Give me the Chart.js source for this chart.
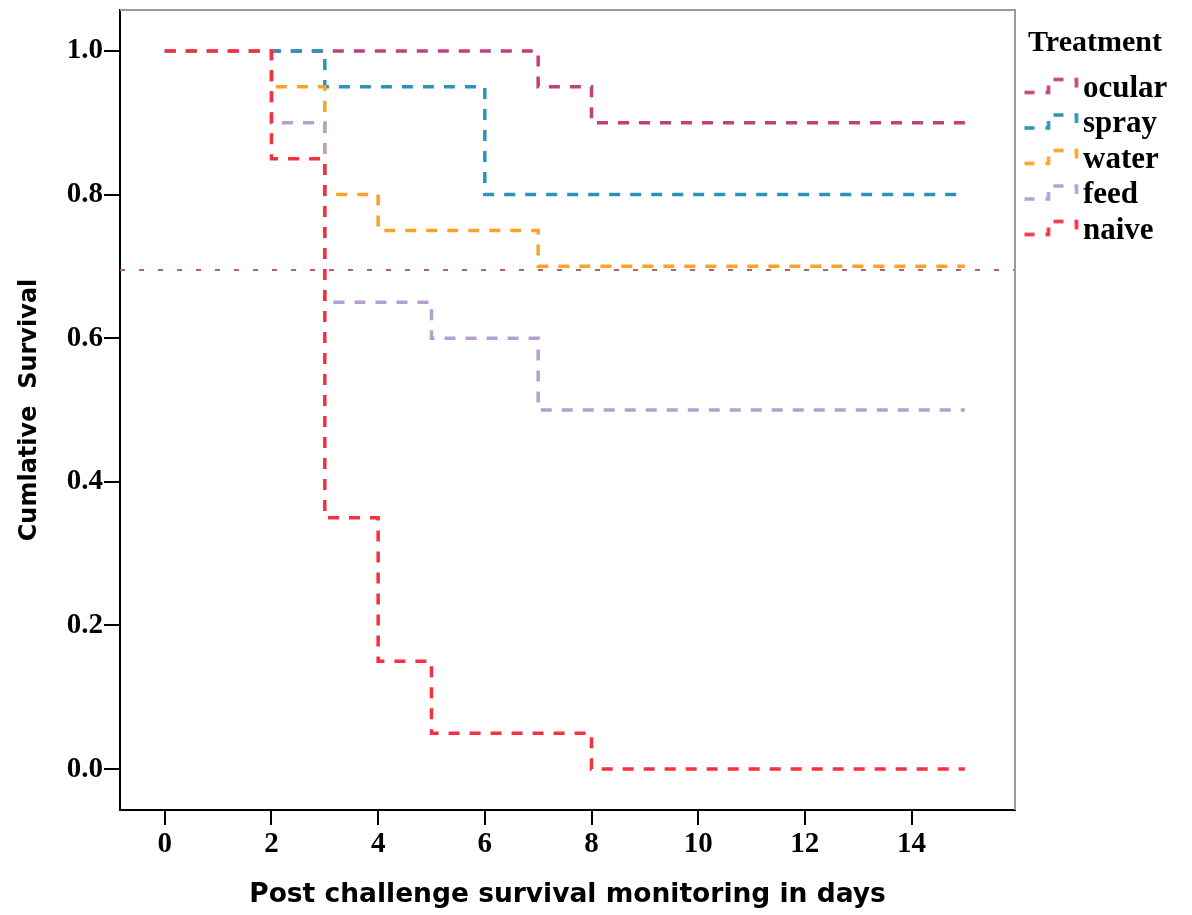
<!DOCTYPE html>
<html>
<head>
<meta charset="utf-8">
<script src="https://cdn.jsdelivr.net/npm/chart.js@4"></script>
<style>
body{margin:0;background:#fff;}
</style>
</head>
<body>
<canvas id="kmChart" width="1192" height="915"></canvas>
<script>

// survival steps: days where curve changes, and the value after the change
let groups = ['ocular','spray','water','feed','naive'];
let ocularDays = [0,7,8,15];
let ocularSurv = [1.0,0.95,0.9,0.9];
let sprayDays = [0,3,6,15];
let spraySurv = [1.0,0.95,0.8,0.8];
let waterDays = [0,2,3,4,7,15];
let waterSurv = [1.0,0.95,0.8,0.75,0.7,0.7];
let feedDays = [0,2,3,5,7,15];
let feedSurv = [1.0,0.9,0.65,0.6,0.5,0.5];
let naiveDays = [0,2,3,4,5,8,15];
let naiveSurv = [1.0,0.85,0.35,0.15,0.05,0.0,0.0];
let refLineDays = [-0.84,15.94];
let refLineSurv = [0.695,0.695];

let xTicks = [0,2,4,6,8,10,12,14];
let yTicks = [0,0.2,0.4,0.6,0.8,1.0];

let colors = {
ocular:'#c0407e',
spray:'#2b93b9',
water:'#fba229',
feed:'#b79fd2',
naive:'#f3313f'
};

let serif = 'Liberation Serif';
let sans = 'DejaVu Sans';

function toPoints(days, surv){
return days.map(function(d,i){ return {x:d, y:surv[i]}; });
}

// small step shaped legend icon, drawn on the right part of the image
function stepIcon(color){
let c = document.createElement('canvas');
c.width = 74;
c.height = 28;
let g = c.getContext('2d');
g.strokeStyle = color;
g.lineWidth = 3.5;
g.setLineDash([10,11]);
g.beginPath();
g.moveTo(18,18);
g.lineTo(42,18);
g.lineTo(42,5);
g.lineTo(70,5);
g.lineTo(70,16);
g.stroke();
return c;
}

let series = {
ocular:[ocularDays,ocularSurv,5],
spray:[sprayDays,spraySurv,4],
water:[waterDays,waterSurv,3],
feed:[feedDays,feedSurv,2],
naive:[naiveDays,naiveSurv,1]
};

let datasets = groups.map(function(name){
return {
label:name,
data:toPoints(series[name][0],series[name][1]),
borderColor:colors[name],
borderWidth:3.5,
borderDash:[11,10],
stepped:true,
pointRadius:0,
fill:false,
order:series[name][2]
};
});

datasets.push({
label:'ref',
data:toPoints(refLineDays,refLineSurv),
borderColor:'#b5616a',
borderWidth:2,
borderDash:[5,14],
pointRadius:0,
fill:false,
order:10
});

// grey frame on top and right like the original plot box
const frame = {
id:'frame',
afterDraw(chart){
let a = chart.chartArea;
let c = chart.ctx;
c.save();
c.strokeStyle = '#9a9a9a';
c.lineWidth = 2;
c.beginPath();
c.moveTo(a.left,a.top);
c.lineTo(a.right,a.top);
c.lineTo(a.right,a.bottom);
c.stroke();
c.restore();
}
};

const ctx = document.getElementById('kmChart').getContext('2d');

const kmChart = new Chart(ctx, {
type:'line',
data:{datasets:datasets},
options:{
responsive:false,
animation:false,
layout:{padding:{top:10,right:17,left:0,bottom:0}},
plugins:{
legend:{
position:'right',
align:'start',
maxWidth:160,
title:{
display:true,
text:'Treatment',
color:'#000',
font:{family:serif,weight:'bold',size:30},
padding:{top:18,bottom:4.5}
},
labels:{
usePointStyle:true,
pointStyleWidth:48,
padding:4.5,
color:'#000',
font:{family:serif,weight:'bold',size:31},
generateLabels:function(chart){
return groups.map(function(name,i){
return {
text:name,
pointStyle:stepIcon(colors[name]),
fillStyle:colors[name],
strokeStyle:colors[name],
lineWidth:0,
fontColor:'#000',
datasetIndex:i,
hidden:false
};
});
}
}
},
tooltip:{enabled:false}
},
scales:{
x:{
type:'linear',
min:-0.84,
max:15.94,
afterBuildTicks:function(scale){ scale.ticks = xTicks.map(function(v){ return {value:v}; }); },
afterFit:function(scale){ scale.height = 105; scale.paddingLeft = 0; scale.paddingRight = 0; },
grid:{drawOnChartArea:false,drawTicks:true,tickLength:15,color:'#000',lineWidth:2},
border:{color:'#000',width:2},
ticks:{color:'#000',padding:2,maxRotation:0,font:{family:serif,weight:'bold',size:29}},
title:{display:true,text:'Post challenge survival monitoring in days',color:'#000',
font:{family:sans,weight:'bold',size:26.5},padding:{top:10}}
},
y:{
min:-0.057,
max:1.057,
afterBuildTicks:function(scale){ scale.ticks = yTicks.map(function(v){ return {value:v}; }); },
afterFit:function(scale){ scale.width = 120; scale.paddingTop = 0; scale.paddingBottom = 0; },
grid:{drawOnChartArea:false,drawTicks:true,tickLength:16,color:'#000',lineWidth:2},
border:{color:'#000',width:2},
ticks:{color:'#000',padding:1,font:{family:serif,weight:'bold',size:29},
callback:function(v){ return v.toFixed(1); }},
title:{display:true,text:'Cumlative  Survival',color:'#000',
font:{family:sans,weight:'bold',size:24},padding:{top:15,bottom:0}}
}
}
},
plugins:[frame]
});

</script>
</body>
</html>
